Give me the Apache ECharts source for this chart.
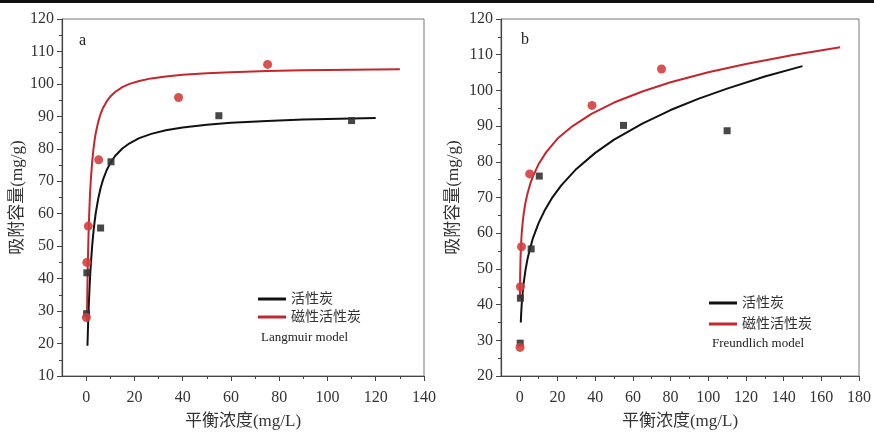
<!DOCTYPE html>
<html>
<head>
<meta charset="utf-8">
<script src="https://cdn.jsdelivr.net/npm/echarts@6/dist/echarts.min.js"></script>
<style>
  html, body { margin: 0; padding: 0; background: #fff; }
  #main { width: 874px; height: 435px; }
</style>
</head>
<body>
<div id="main"></div>
<script>
// measured points (same samples in both panels)
const acPoints = [[0.2, 29.2], [0.3, 41.8], [6, 55.6], [10.3, 76], [55, 90.2], [110, 88.7]];
const macPoints = [[0.1, 28], [0.3, 45], [0.9, 56.2], [5.2, 76.6], [38.3, 95.8], [75.2, 106]];

// fitted curves
const langmuirAc = [[0.55, 19.3], [0.7, 23.2], [0.85, 26.8], [1, 29.9], [1.25, 34.6], [1.5, 38.5], [1.75, 42], [2, 45], [2.5, 50.1], [3, 54.2], [3.5, 57.5], [4, 60.3], [5, 64.6], [6, 67.9], [7, 70.5], [8.5, 73.4], [10, 75.6], [12, 77.8], [15, 80.1], [18, 81.7], [22, 83.3], [27, 84.6], [33, 85.7], [40, 86.6], [50, 87.4], [60, 88], [75, 88.6], [90, 89], [105, 89.3], [120, 89.5]];
const langmuirMac = [[0.33, 26.9], [0.4, 30.9], [0.5, 36], [0.6, 40.5], [0.7, 44.4], [0.85, 49.4], [1, 53.7], [1.25, 59.5], [1.5, 64.2], [1.75, 68], [2, 71.1], [2.5, 76], [3, 79.7], [3.5, 82.6], [4, 84.9], [5, 88.3], [6, 90.8], [7, 92.6], [8.5, 94.6], [10, 96.1], [12, 97.5], [15, 99], [18, 100], [22, 100.9], [27, 101.7], [33, 102.3], [40, 102.8], [50, 103.3], [60, 103.6], [75, 104], [90, 104.2], [110, 104.4], [130, 104.5]];
const freundAc = [[0.5, 35], [0.7, 37.4], [1, 40.1], [1.5, 43.4], [2, 45.9], [3, 49.7], [4, 52.6], [5, 54.9], [7, 58.7], [10, 62.9], [13, 66.2], [17, 69.8], [22, 73.4], [30, 78], [40, 82.5], [50, 86.2], [65, 90.7], [80, 94.5], [95, 97.7], [110, 100.5], [130, 103.9], [150, 106.8]];
const freundMac = [[0.05, 41.6], [0.1, 45.3], [0.2, 49.3], [0.35, 52.8], [0.5, 55.1], [0.75, 57.9], [1, 60], [1.5, 63], [2, 65.3], [3, 68.6], [4, 71], [5.5, 73.8], [7, 76], [10, 79.4], [14, 82.7], [20, 86.5], [28, 90], [38, 93.4], [50, 96.6], [65, 99.7], [80, 102.3], [100, 105.1], [120, 107.4], [145, 109.9], [170, 112.1]];

const xLabelsA = [0, 20, 40, 60, 80, 100, 120, 140];
const xMinorA = [10, 30, 50, 70, 90, 110, 130];
const xLabelsB = [0, 20, 40, 60, 80, 100, 120, 140, 160, 180];
const xMinorB = [10, 30, 50, 70, 90, 110, 130, 150, 170];

const serif = '"Liberation Serif", "Noto Sans CJK SC", serif';
const axisColor = '#444';
const blackLine = '#111';
const redLine = '#c4262e';

const chart = echarts.init(document.getElementById('main'));

function mainX(grid, max, labels) {
    return {
        type: 'value', gridIndex: grid, min: -10, max: max, interval: 10,
        name: '平衡浓度(mg/L)', nameLocation: 'middle', nameGap: 37,
        nameTextStyle: { fontFamily: serif, fontSize: 17, color: '#333' },
        axisLine: { onZero: false, lineStyle: { color: axisColor, width: 1.2 } },
        axisTick: { customValues: labels, length: 5, lineStyle: { color: axisColor } },
        axisLabel: { customValues: labels, fontFamily: serif, fontSize: 16, color: '#333', margin: 14 },
        splitLine: { show: false }
    };
}
function minorX(grid, max, ticks) {
    return {
        type: 'value', gridIndex: grid, min: -10, max: max, interval: 10, position: 'bottom',
        axisLine: { show: false, onZero: false },
        axisTick: { customValues: ticks, length: 3, lineStyle: { color: axisColor } },
        axisLabel: { show: false },
        splitLine: { show: false }
    };
}
function mainY(grid, min, gap) {
    return {
        type: 'value', gridIndex: grid, min: min, max: 120, interval: 10,
        name: '吸附容量(mg/g)', nameLocation: 'middle', nameGap: gap,
        nameTextStyle: { fontFamily: serif, fontSize: 17, color: '#333' },
        axisLine: { show: true, onZero: false, lineStyle: { color: axisColor, width: 1.2 } },
        axisTick: { show: true, length: 5, lineStyle: { color: axisColor } },
        minorTick: { show: true, splitNumber: 2, length: 3, lineStyle: { color: axisColor } },
        axisLabel: { fontFamily: serif, fontSize: 16, color: '#333', margin: 8 },
        splitLine: { show: false }
    };
}
function curve(name, x, y, data, color) {
    return {
        name: name, type: 'line', xAxisIndex: x, yAxisIndex: y, data: data,
        smooth: false, showSymbol: false, symbol: 'none',
        lineStyle: { color: color, width: 2 }, itemStyle: { color: color }, z: 3
    };
}
function dots(name, x, y, data, shape, color, size) {
    return {
        name: name, type: 'scatter', xAxisIndex: x, yAxisIndex: y, data: data,
        symbol: shape, symbolSize: size, itemStyle: { color: color, opacity: 0.9 }, z: 4
    };
}
function legendAt(left, top, gap) {
    return {
        left: left, top: top, orient: 'vertical', itemGap: gap,
        icon: 'rect', itemWidth: 28, itemHeight: 3,
        data: ['活性炭', '磁性活性炭'], selectedMode: false,
        textStyle: { fontFamily: serif, fontSize: 14, color: '#333' }
    };
}
function tag(text, left, top, size) {
    return { text: text, left: left, top: top, textStyle: { fontFamily: serif, fontSize: size, fontWeight: 'normal', color: '#222' } };
}

chart.setOption({
    animation: false,
    title: [
        tag('a', 74, 28, 16),
        tag('b', 516, 27, 16),
        tag('Langmuir model', 256, 326, 13),
        tag('Freundlich model', 707, 332, 13)
    ],
    legend: [legendAt(253, 287, 4), legendAt(704, 291, 7)],
    grid: [
        { left: 62, top: 19, width: 362, height: 358, show: true, borderColor: '#777', borderWidth: 1 },
        { left: 501, top: 19, width: 362, height: 362, show: true, borderColor: '#777', borderWidth: 1 }
    ],
    xAxis: [mainX(0, 140, xLabelsA), mainX(1, 180, xLabelsB), minorX(0, 140, xMinorA), minorX(1, 180, xMinorB)],
    yAxis: [mainY(0, 10, 29), mainY(1, 20, 39)],
    graphic: [{ type: 'rect', shape: { x: 0, y: 0, width: 874, height: 3 }, style: { fill: '#111' } }],
    series: [
        curve('活性炭', 0, 0, langmuirAc, blackLine),
        curve('磁性活性炭', 0, 0, langmuirMac, redLine),
        dots('活性炭实验值', 0, 0, acPoints, 'rect', '#333', 7),
        dots('磁性活性炭实验值', 0, 0, macPoints, 'circle', '#d43f3f', 9),
        curve('活性炭', 1, 1, freundAc, blackLine),
        curve('磁性活性炭', 1, 1, freundMac, redLine),
        dots('活性炭实验值', 1, 1, acPoints, 'rect', '#333', 7),
        dots('磁性活性炭实验值', 1, 1, macPoints, 'circle', '#d43f3f', 9)
    ]
});
</script>
</body>
</html>
